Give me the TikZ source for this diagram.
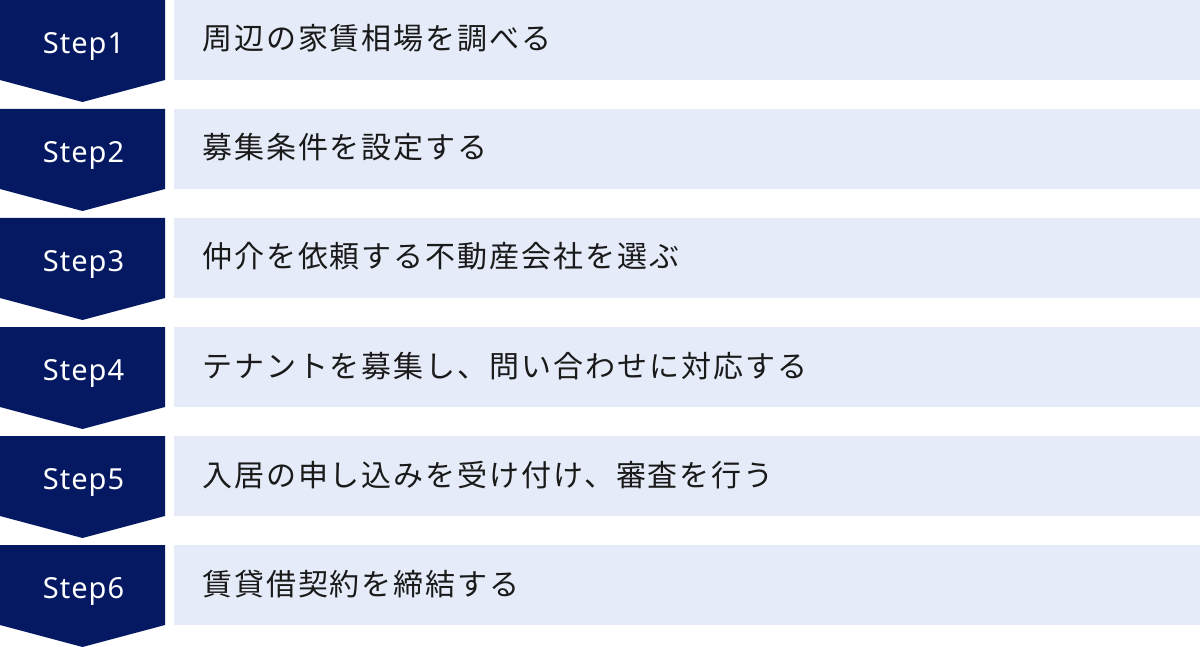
\documentclass[tikz,border=0pt]{standalone}
\usepackage{fontspec}
\setmainfont{Noto Sans CJK JP}
\newfontfamily\jpfont[LetterSpace=6.5]{Noto Sans CJK JP}
\newfontfamily\stepfont[LetterSpace=3.5]{Noto Sans}
\definecolor{navy}{HTML}{051962}
\definecolor{pale}{HTML}{E5EBF8}
\definecolor{ink}{HTML}{1A1A1A}
\tikzset{
  chev/.style={fill=navy},
  band/.style={fill=pale},
  steplabel/.style={anchor=base, text=white, inner sep=0pt, font=\stepfont\fontsize{29}{29}\selectfont},
  jtext/.style={anchor=base west, text=ink, inner sep=0pt, font=\jpfont\fontsize{30}{30}\selectfont}
}
\begin{document}
\begin{tikzpicture}[x=1pt,y=-1pt]
\useasboundingbox (0,0) rectangle (1200,647);
\foreach \i/\t in {1/周辺の家賃相場を調べる,2/募集条件を設定する,3/仲介を依頼する不動産会社を選ぶ,4/テナントを募集し、問い合わせに対応する,5/入居の申し込みを受け付け、審査を行う,6/賃貸借契約を締結する}{
  \pgfmathsetmacro{\r}{(\i-1)*109}
  \fill[chev] (0,\r) -- (165,\r) -- (165,\r+80) -- (82.5,\r+102) -- (0,\r+80) -- cycle;
  \fill[band] (174,\r) rectangle (1200,\r+80);
  \node[steplabel] (s\i) at (83.5,\r+53.5) {Step\i};
  \node[jtext] (t\i) at (202,\r+50) {\t};
}
\end{tikzpicture}
\end{document}
